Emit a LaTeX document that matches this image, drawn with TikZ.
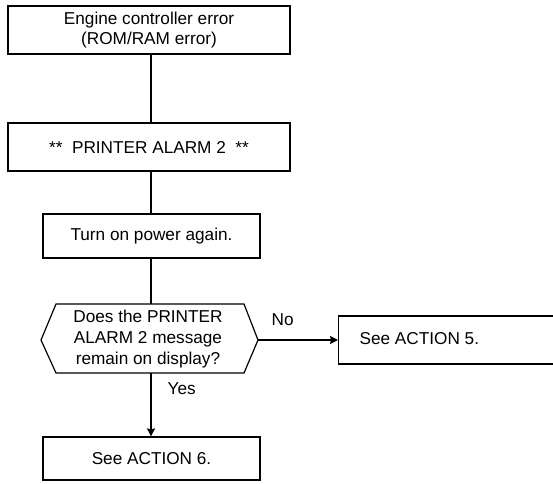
\documentclass[tikz,border=0pt]{standalone}
\usepackage{fontspec}
\setmainfont{Liberation Sans}
\usetikzlibrary{arrows.meta}
\begin{document}
\begin{tikzpicture}[x=1pt,y=-1pt,
  line width=1.2pt,
  every node/.style={font=\fontsize{17.2}{20.5}\selectfont, inner sep=0pt},
  box/.style={draw, rectangle, align=center},
  lbl/.style={font=\fontsize{17.2}{20}\selectfont},
  arr/.style={-{Stealth[length=8pt,width=8pt,inset=1pt]}}]
\useasboundingbox (0,0) rectangle (553,483);
% boxes
\node[box, minimum width=282pt, minimum height=48pt] (b1) at (149,30) {Engine controller error\\(ROM/RAM error)};
\node[box, minimum width=282pt, minimum height=48pt] (b2) at (149,147) {**\ \ PRINTER ALARM 2\ \ **};
\node[box, minimum width=217pt, minimum height=44pt] (b3) at (151.5,236) {Turn on power again.};
\node[box, minimum width=217pt, minimum height=43pt] (b6) at (151.5,458.5) {See ACTION 6.};
% decision
\coordinate (dtl) at (56,304);
\coordinate (dtr) at (244,304);
\coordinate (dr) at (258,340);
\coordinate (dbr) at (244,373);
\coordinate (dbl) at (56,373);
\coordinate (dl) at (41,340);
\draw (dtl) -- (dtr) -- (dr) -- (dbr) -- (dbl) -- (dl) -- cycle;
\node[align=center, font=\fontsize{17.2}{21}\selectfont] (d) at (148,339) {Does the PRINTER\\ALARM 2 message\\remain on display?};
\coordinate (dtop) at (151,304);
\coordinate (dbot) at (151,373);
% right box clipped at page edge
\begin{scope}
\clip (0,0) rectangle (553,483);
\node[draw, rectangle, minimum width=240pt, minimum height=48pt, anchor=west] (b5) at (338,340) {};
\end{scope}
\node[anchor=west] (t5) at (359,339) {See ACTION 5.};
% connectors
\draw (b1.south -| dtop) -- (b2.north -| dtop);
\draw (b2.south -| dtop) -- (b3.north -| dtop);
\draw (b3.south -| dtop) -- (dtop);
\draw[arr] (dbot) -- (b6.north -| dbot);
\draw[arr] (dr) -- (b5.west);
% labels
\node[lbl, anchor=west] (yes) at (167,389) {Yes};
\node[lbl, anchor=west] (no) at (271,320) {No};
\end{tikzpicture}
\end{document}
